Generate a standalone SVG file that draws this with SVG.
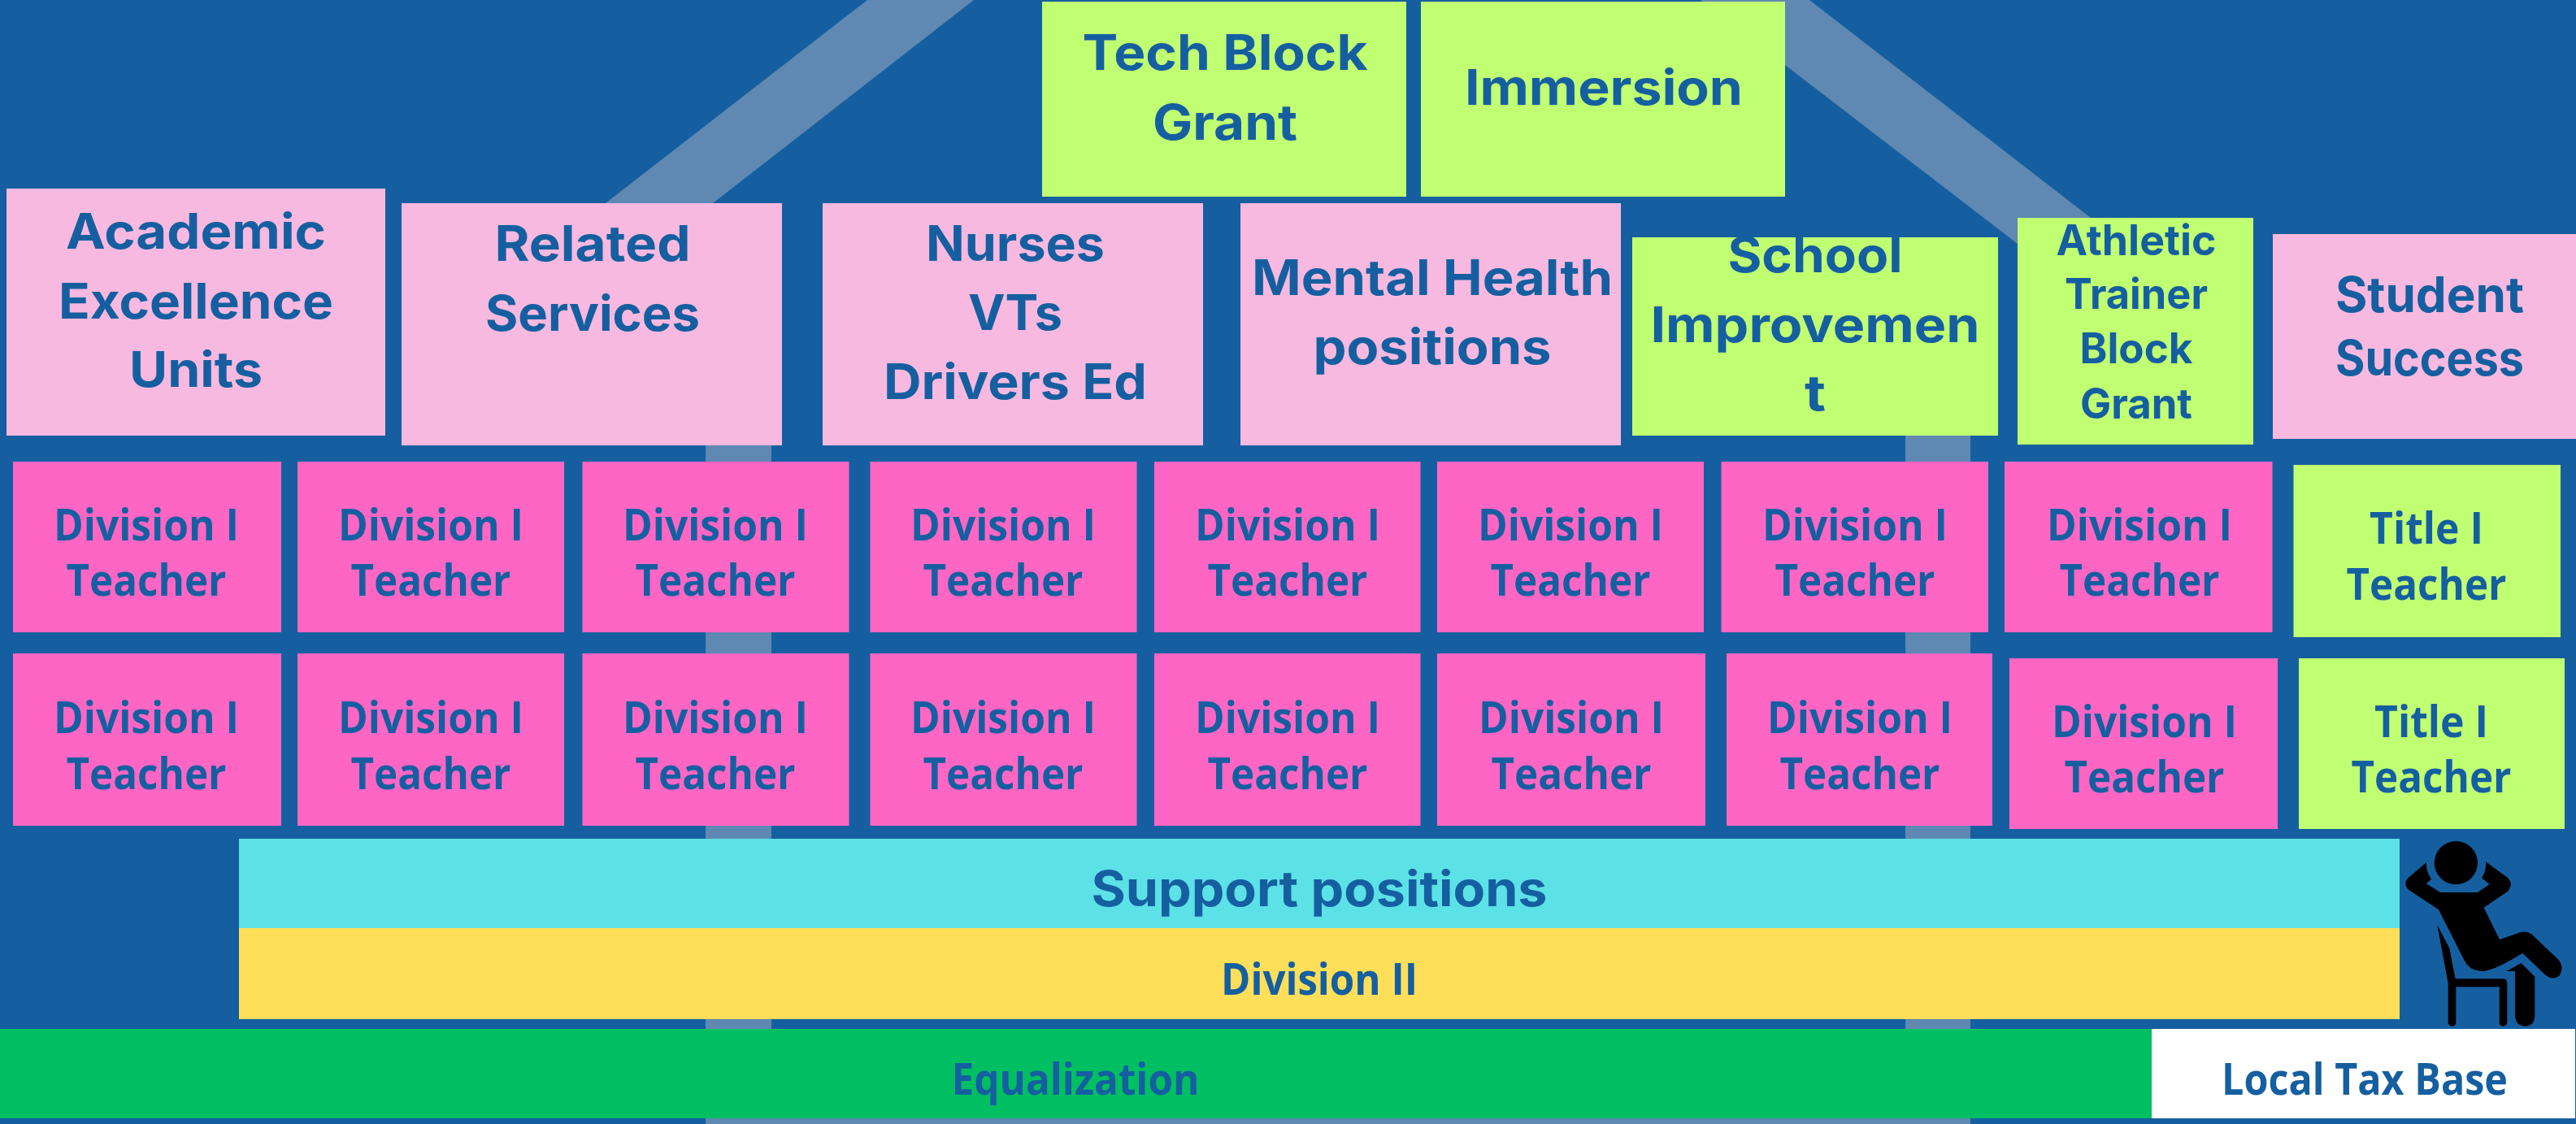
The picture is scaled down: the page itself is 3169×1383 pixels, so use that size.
<svg xmlns="http://www.w3.org/2000/svg" width="3169" height="1383" viewBox="0 0 3169 1383">
<style>
text{fill:#155FA0;text-anchor:middle;font-weight:700}
.m{font-family:"Inter","Liberation Sans",sans-serif;font-size:60px}
.s{font-family:"Inter","Liberation Sans",sans-serif;font-size:52px}
.o{font-family:"Open Sans","Liberation Sans",sans-serif;font-size:54px}
.p{fill:#F7B9DF}.h{fill:#FF66C4}.l{fill:#C1FF72}
.f{fill:#5F88B2}
</style>
<rect width="3169" height="1383" fill="#155FA0"/>
<g id="connectors">
<polygon class="f" points="1067,0 1198,0 877,250 745,250"/>
<polygon class="f" points="2092,0 2226,0 2572,268 2572,320 2482,300"/>
<rect class="f" x="868" y="500" width="81" height="883"/>
<rect class="f" x="2344" y="500" width="80" height="883"/>
<rect class="f" x="868" y="1370" width="1556" height="13"/>
</g>
<g id="academic"><rect class="p" x="8" y="232" width="466" height="304"/>
<text class="m" x="241" y="306" textLength="320" lengthAdjust="spacingAndGlyphs">Academic</text>
<text class="m" x="241" y="392" textLength="338" lengthAdjust="spacingAndGlyphs">Excellence</text>
<text class="m" x="241" y="476" textLength="164" lengthAdjust="spacingAndGlyphs">Units</text></g>
<g id="related"><rect class="p" x="494" y="250" width="468" height="298"/>
<text class="m" x="729" y="321" textLength="241" lengthAdjust="spacingAndGlyphs">Related</text>
<text class="m" x="729" y="407" textLength="264" lengthAdjust="spacingAndGlyphs">Services</text></g>
<g id="nurses"><rect class="p" x="1012" y="250" width="468" height="298"/>
<text class="m" x="1249" y="321" textLength="220" lengthAdjust="spacingAndGlyphs">Nurses</text>
<text class="m" x="1249" y="406" textLength="116" lengthAdjust="spacingAndGlyphs">VTs</text>
<text class="m" x="1249" y="491" textLength="324" lengthAdjust="spacingAndGlyphs">Drivers Ed</text></g>
<g id="mental-health"><rect class="p" x="1526" y="250" width="468" height="298"/>
<text class="m" x="1762" y="363" textLength="444" lengthAdjust="spacingAndGlyphs">Mental Health</text>
<text class="m" x="1762" y="448" textLength="293" lengthAdjust="spacingAndGlyphs">positions</text></g>
<g id="tech-block"><rect class="l" x="1282" y="2" width="448" height="240"/>
<text class="m" x="1507" y="86" textLength="351" lengthAdjust="spacingAndGlyphs">Tech Block</text>
<text class="m" x="1507" y="172" textLength="178" lengthAdjust="spacingAndGlyphs">Grant</text></g>
<g id="immersion"><rect class="l" x="1748" y="2" width="448" height="240"/>
<text class="m" x="1973" y="129" textLength="342" lengthAdjust="spacingAndGlyphs">Immersion</text></g>
<g id="school-improvement"><rect class="l" x="2008" y="292" width="450" height="244"/>
<text class="m" x="2233" y="335" textLength="215" lengthAdjust="spacingAndGlyphs">School</text>
<text class="m" x="2233" y="421" textLength="405" lengthAdjust="spacingAndGlyphs">Improvemen</text>
<text class="m" x="2233" y="505" textLength="26" lengthAdjust="spacingAndGlyphs">t</text></g>
<g id="athletic"><rect class="l" x="2482" y="268" width="290" height="279"/>
<text class="s" x="2628" y="314" textLength="197" lengthAdjust="spacingAndGlyphs">Athletic</text>
<text class="s" x="2628" y="380" textLength="176" lengthAdjust="spacingAndGlyphs">Trainer</text>
<text class="s" x="2628" y="447" textLength="139" lengthAdjust="spacingAndGlyphs">Block</text>
<text class="s" x="2628" y="515" textLength="138" lengthAdjust="spacingAndGlyphs">Grant</text></g>
<g id="student-success"><rect class="p" x="2796" y="288" width="373" height="252"/>
<text class="m" x="2989" y="384" textLength="232" lengthAdjust="spacingAndGlyphs">Student</text>
<text class="m" x="2989" y="462" textLength="232" lengthAdjust="spacingAndGlyphs">Success</text></g>
<g id="r1c1"><rect class="h" x="16" y="568" width="330" height="210"/><text class="o" x="180" y="665" textLength="228" lengthAdjust="spacingAndGlyphs">Division I</text><text class="o" x="180" y="733" textLength="197" lengthAdjust="spacingAndGlyphs">Teacher</text></g>
<g id="r1c2"><rect class="h" x="366" y="568" width="328" height="210"/><text class="o" x="530" y="665" textLength="228" lengthAdjust="spacingAndGlyphs">Division I</text><text class="o" x="530" y="733" textLength="197" lengthAdjust="spacingAndGlyphs">Teacher</text></g>
<g id="r1c3"><rect class="h" x="716.5" y="568" width="328" height="210"/><text class="o" x="880" y="665" textLength="228" lengthAdjust="spacingAndGlyphs">Division I</text><text class="o" x="880" y="733" textLength="197" lengthAdjust="spacingAndGlyphs">Teacher</text></g>
<g id="r1c4"><rect class="h" x="1070.5" y="568" width="328" height="210"/><text class="o" x="1234" y="665" textLength="228" lengthAdjust="spacingAndGlyphs">Division I</text><text class="o" x="1234" y="733" textLength="197" lengthAdjust="spacingAndGlyphs">Teacher</text></g>
<g id="r1c5"><rect class="h" x="1420" y="568" width="327.500" height="210"/><text class="o" x="1584" y="665" textLength="228" lengthAdjust="spacingAndGlyphs">Division I</text><text class="o" x="1584" y="733" textLength="197" lengthAdjust="spacingAndGlyphs">Teacher</text></g>
<g id="r1c6"><rect class="h" x="1768" y="568" width="328" height="210"/><text class="o" x="1932" y="665" textLength="228" lengthAdjust="spacingAndGlyphs">Division I</text><text class="o" x="1932" y="733" textLength="197" lengthAdjust="spacingAndGlyphs">Teacher</text></g>
<g id="r1c7"><rect class="h" x="2117.500" y="568" width="328.500" height="210"/><text class="o" x="2282" y="665" textLength="228" lengthAdjust="spacingAndGlyphs">Division I</text><text class="o" x="2282" y="733" textLength="197" lengthAdjust="spacingAndGlyphs">Teacher</text></g>
<g id="r1c8"><rect class="h" x="2466" y="568" width="329.500" height="210"/><text class="o" x="2632" y="665" textLength="228" lengthAdjust="spacingAndGlyphs">Division I</text><text class="o" x="2632" y="733" textLength="197" lengthAdjust="spacingAndGlyphs">Teacher</text></g>
<g id="r1c9"><rect class="l" x="2821.500" y="572" width="328.500" height="212"/><text class="o" x="2985" y="669" textLength="140" lengthAdjust="spacingAndGlyphs">Title I</text><text class="o" x="2985" y="738" textLength="197" lengthAdjust="spacingAndGlyphs">Teacher</text></g>
<g id="r2c1"><rect class="h" x="16" y="804" width="330" height="212"/><text class="o" x="180" y="902" textLength="228" lengthAdjust="spacingAndGlyphs">Division I</text><text class="o" x="180" y="971" textLength="197" lengthAdjust="spacingAndGlyphs">Teacher</text></g>
<g id="r2c2"><rect class="h" x="366" y="804" width="328" height="212"/><text class="o" x="530" y="902" textLength="228" lengthAdjust="spacingAndGlyphs">Division I</text><text class="o" x="530" y="971" textLength="197" lengthAdjust="spacingAndGlyphs">Teacher</text></g>
<g id="r2c3"><rect class="h" x="716.5" y="804" width="328" height="212"/><text class="o" x="880" y="902" textLength="228" lengthAdjust="spacingAndGlyphs">Division I</text><text class="o" x="880" y="971" textLength="197" lengthAdjust="spacingAndGlyphs">Teacher</text></g>
<g id="r2c4"><rect class="h" x="1070.5" y="804" width="328" height="212"/><text class="o" x="1234" y="902" textLength="228" lengthAdjust="spacingAndGlyphs">Division I</text><text class="o" x="1234" y="971" textLength="197" lengthAdjust="spacingAndGlyphs">Teacher</text></g>
<g id="r2c5"><rect class="h" x="1420" y="804" width="327.500" height="212"/><text class="o" x="1584" y="902" textLength="228" lengthAdjust="spacingAndGlyphs">Division I</text><text class="o" x="1584" y="971" textLength="197" lengthAdjust="spacingAndGlyphs">Teacher</text></g>
<g id="r2c6"><rect class="h" x="1768" y="804" width="330" height="212"/><text class="o" x="1933" y="902" textLength="228" lengthAdjust="spacingAndGlyphs">Division I</text><text class="o" x="1933" y="971" textLength="197" lengthAdjust="spacingAndGlyphs">Teacher</text></g>
<g id="r2c7"><rect class="h" x="2124" y="804" width="327" height="212"/><text class="o" x="2288" y="902" textLength="228" lengthAdjust="spacingAndGlyphs">Division I</text><text class="o" x="2288" y="971" textLength="197" lengthAdjust="spacingAndGlyphs">Teacher</text></g>
<g id="r2c8"><rect class="h" x="2472" y="810" width="330" height="210"/><text class="o" x="2638" y="907" textLength="228" lengthAdjust="spacingAndGlyphs">Division I</text><text class="o" x="2638" y="975" textLength="197" lengthAdjust="spacingAndGlyphs">Teacher</text></g>
<g id="r2c9"><rect class="l" x="2828" y="810" width="327" height="210"/><text class="o" x="2991" y="907" textLength="140" lengthAdjust="spacingAndGlyphs">Title I</text><text class="o" x="2991" y="975" textLength="197" lengthAdjust="spacingAndGlyphs">Teacher</text></g>
<g id="support"><rect x="294" y="1032" width="2658" height="110" fill="#5CE1E6"/>
<text class="m" x="1623" y="1115" textLength="561" lengthAdjust="spacingAndGlyphs">Support positions</text></g>
<g id="division-ii"><rect x="294" y="1142" width="2658" height="112" fill="#FFDE59"/>
<text class="o" x="1623" y="1224" textLength="242" lengthAdjust="spacingAndGlyphs">Division II</text></g>
<g id="equalization"><rect x="0" y="1266" width="2647" height="110" fill="#00BF63"/>
<text class="o" x="1323" y="1347" textLength="305" lengthAdjust="spacingAndGlyphs">Equalization</text></g>
<g id="local-tax-base"><rect x="2647" y="1266" width="521" height="110" fill="#FFFFFF"/>
<text class="o" x="2909" y="1347" textLength="352" lengthAdjust="spacingAndGlyphs">Local Tax Base</text></g>
<g id="person" transform="translate(2850 980) scale(.33333)" fill="#000">
<circle cx="514" cy="245" r="80"/>
<path d="M405 243L335 303Q318 325 340 345L450 418L545 605Q565 645 615 645Q660 640 760 578L845 660Q870 680 895 662Q915 635 895 605L795 510Q775 495 750 502L675 528L617 410L705 350Q728 325 705 300L624 241Q626 275 609 301L638 324L594 354L456 354L404 322L423 305Q403 275 405 243Z"/>
<path d="M445 475L490 560L512 673L690 673Q703 675 703 690L703 835Q700 848 688 848Q675 848 674 835L674 703L514 703L514 835Q512 848 500 848Q487 848 485 835L485 690Z"/>
<path d="M700 645L755 615L805 665L805 810Q803 848 768 848Q735 846 732 810L732 645Z"/>
</g>
</svg>
